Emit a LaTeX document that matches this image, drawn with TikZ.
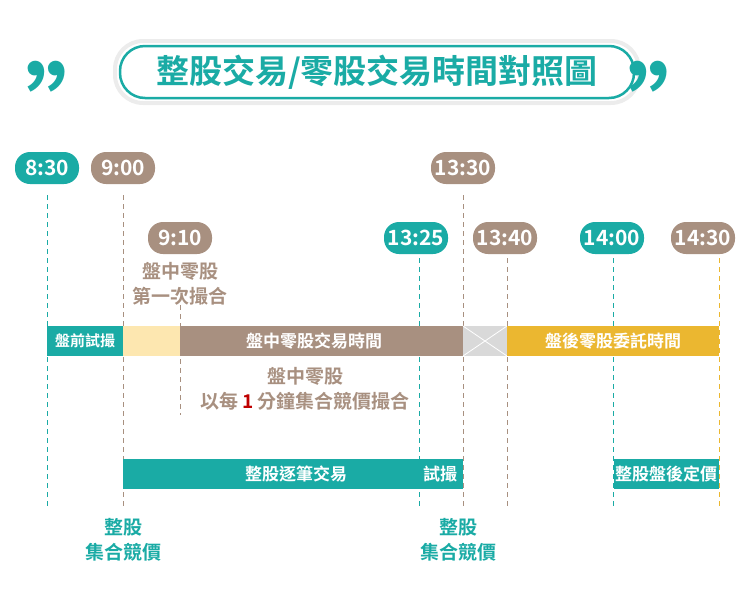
\documentclass[tikz,border=0pt]{standalone}
\usepackage{fontspec}
\setmainfont{Noto Sans CJK TC}[BoldFont={Noto Sans CJK TC Bold}]
\definecolor{teal}{HTML}{1AABA5}
\definecolor{brn}{HTML}{A89080}
\definecolor{yel}{HTML}{EBB730}
\definecolor{lyel}{HTML}{FDE7B0}
\definecolor{gry}{HTML}{D9D9D9}
\begin{document}
\begin{tikzpicture}[x=1pt,y=-1pt,
  pill/.style={rounded corners=15pt,minimum width=64pt,minimum height=32pt,inner sep=0pt,text=white,font=\bfseries\fontsize{21}{21}\selectfont},
  vl/.style={dashed,dash pattern=on 5pt off 4pt,line width=0.8pt},
  btxt/.style={text=white,font=\bfseries\fontsize{17}{17}\selectfont},
  note/.style={font=\bfseries\fontsize{19}{25}\selectfont,align=center}]
\useasboundingbox (0,0) rectangle (750,598);
% title
\node[draw=gry!50,line width=4pt,rounded corners=28pt,minimum width=524pt,minimum height=62pt] (tt0) at (377,72) {};
\node[draw=teal,line width=2.5pt,fill=white,rounded corners=25pt,minimum width=514pt,minimum height=52pt,text=teal,font=\bfseries\fontsize{33}{33}\selectfont] (title) at (377,72) {整股交易/零股交易時間對照圖};
\node[text=teal,font=\bfseries\fontsize{100}{100}\selectfont] (q1) at (75,104) {”};
\node[text=teal,font=\bfseries\fontsize{100}{100}\selectfont] (q2) at (677,104) {”};
% lines
\coordinate (a1) at (47,195); \coordinate (a2) at (47,508);
\coordinate (b1) at (123,195); \coordinate (b2) at (123,508);
\coordinate (c1) at (180,305); \coordinate (c2) at (180,415);
\coordinate (d1) at (419,258); \coordinate (d2) at (419,508);
\coordinate (e1) at (463,195); \coordinate (e2) at (463,508);
\coordinate (f1) at (507,258); \coordinate (f2) at (507,508);
\coordinate (g1) at (613,258); \coordinate (g2) at (613,508);
\coordinate (h1) at (719,258); \coordinate (h2) at (719,508);
\draw[vl,teal] (a1)--(a2); \draw[vl,brn] (b1)--(b2); \draw[vl,brn] (c1)--(c2);
\draw[vl,teal] (d1)--(d2); \draw[vl,brn] (e1)--(e2); \draw[vl,brn] (f1)--(f2);
\draw[vl,teal] (g1)--(g2); \draw[vl,yel] (h1)--(h2);
% pills
\node[pill,fill=teal] (p830) at (47,168) {8:30};
\node[pill,fill=brn] (p900) at (123,168) {9:00};
\node[pill,fill=brn] (p1330) at (463,168) {13:30};
\node[pill,fill=brn] (p910) at (180,238) {9:10};
\node[pill,fill=teal] (p1325) at (416,238) {13:25};
\node[pill,fill=brn] (p1340) at (505,238) {13:40};
\node[pill,fill=teal] (p1400) at (612,238) {14:00};
\node[pill,fill=brn] (p1430) at (703,238) {14:30};
% row 1
\fill[teal] (47,326) rectangle (123,356);
\node[btxt,font=\bfseries\fontsize{15}{15}\selectfont] (r1a) at (85,341) {盤前試撮};
\fill[lyel] (123,326) rectangle (180,356);
\fill[brn] (180,326) rectangle (463,356);
\node[btxt] (r1b) at (314,341) {盤中零股交易時間};
\fill[gry] (463,326) rectangle (507,356);
\draw[white,line width=0.8pt] (463,326)--(507,356) (463,356)--(507,326);
\fill[yel] (507,326) rectangle (719,356);
\node[btxt] (r1c) at (613,341) {盤後零股委託時間};
% row 2
\fill[teal] (123,459) rectangle (463,489);
\node[btxt] (r2a) at (296,474) {整股逐筆交易};
\node[btxt] (r2b) at (440,474) {試撮};
\fill[teal] (614,459) rectangle (719,489);
\node[btxt] (r2c) at (666,474) {整股盤後定價};
% notes
\node[note,text=brn] (n1) at (180,284) {盤中零股\\第一次撮合};
\node[note,text=brn] (n2) at (305,389) {盤中零股\\以每 \textcolor{red!75!black}{1} 分鐘集合競價撮合};
\node[note,text=teal] (n3) at (123,540) {整股\\集合競價};
\node[note,text=teal] (n4) at (458,540) {整股\\集合競價};
\end{tikzpicture}
\end{document}
